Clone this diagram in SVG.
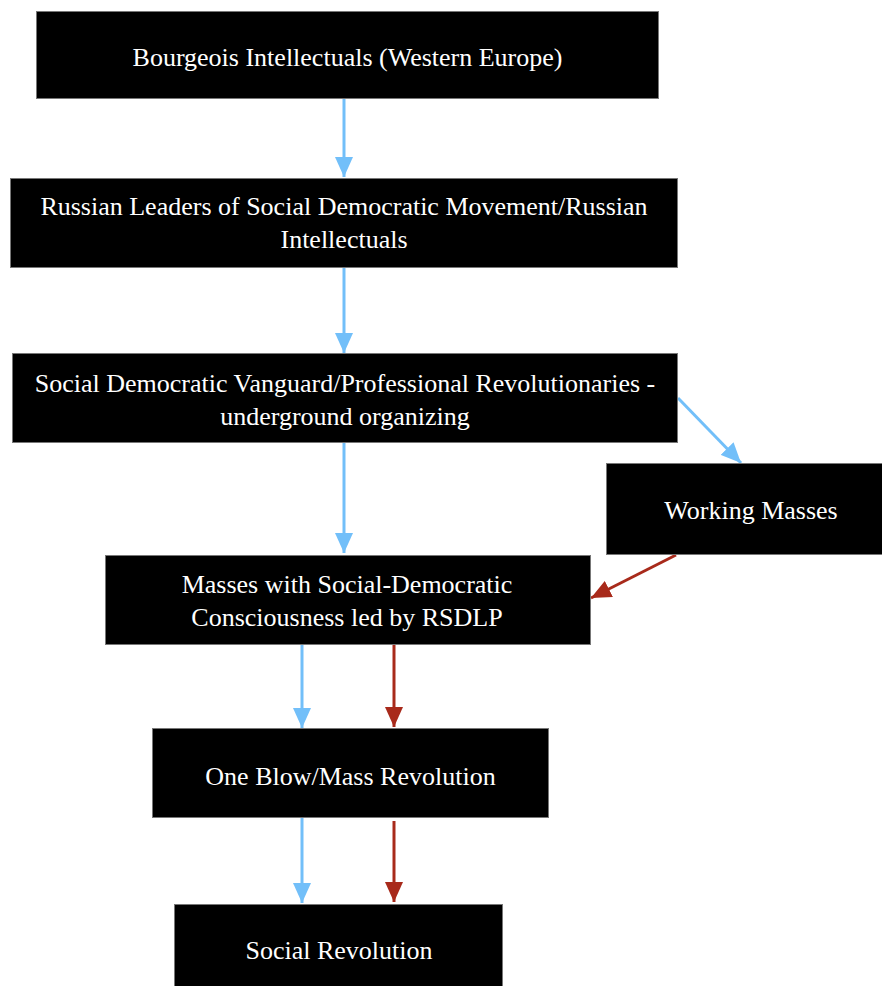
<svg xmlns="http://www.w3.org/2000/svg" width="882" height="986" viewBox="0 0 882 986">
<style>
.box{fill:#000;stroke:#777;stroke-width:1}
.lbl{fill:#fff;font-family:"Liberation Serif","Times New Roman",serif;font-size:26px;text-anchor:middle}
.blue{stroke:#72BFF9;stroke-width:3;fill:none}
.red{stroke:#A82A1B;stroke-width:3;fill:none}
</style>
<defs>
<marker id="hb" viewBox="0 0 20 18" refX="20" refY="9" markerWidth="20" markerHeight="18" markerUnits="userSpaceOnUse" orient="auto"><path d="M0,0 L20,9 L0,18 z" fill="#72BFF9"/></marker>
<marker id="hr" viewBox="0 0 20 18" refX="20" refY="9" markerWidth="20" markerHeight="18" markerUnits="userSpaceOnUse" orient="auto"><path d="M0,0 L20,9 L0,18 z" fill="#A82A1B"/></marker>
</defs>
<rect width="882" height="986" fill="#fff"/>
<g id="connectors">
<line class="blue" x1="344" y1="98" x2="344" y2="177" marker-end="url(#hb)"/>
<line class="blue" x1="344" y1="268" x2="344" y2="353" marker-end="url(#hb)"/>
<line class="blue" x1="344" y1="443" x2="344" y2="553" marker-end="url(#hb)"/>
<line class="blue" x1="678" y1="398" x2="741" y2="463" marker-end="url(#hb)"/>
<line class="red" x1="676" y1="555" x2="591" y2="598" marker-end="url(#hr)"/>
<line class="blue" x1="302" y1="645" x2="302" y2="728" marker-end="url(#hb)"/>
<line class="red" x1="394" y1="645" x2="394" y2="727" marker-end="url(#hr)"/>
<line class="blue" x1="302" y1="818" x2="302" y2="903" marker-end="url(#hb)"/>
<line class="red" x1="394" y1="821" x2="394" y2="902" marker-end="url(#hr)"/>
</g>
<g id="n1"><rect class="box" x="36.5" y="11.5" width="622" height="87"/><text class="lbl" x="347.5" y="66">Bourgeois Intellectuals (Western Europe)</text></g>
<g id="n2"><rect class="box" x="10.5" y="178.5" width="667" height="89"/><text class="lbl" x="344" y="215">Russian Leaders of Social Democratic Movement/Russian</text><text class="lbl" x="344" y="248">Intellectuals</text></g>
<g id="n3"><rect class="box" x="12.5" y="353.5" width="665" height="89"/><text class="lbl" x="345" y="392">Social Democratic Vanguard/Professional Revolutionaries -</text><text class="lbl" x="345" y="425">underground organizing</text></g>
<g id="n4"><rect class="box" x="606.5" y="463.5" width="280" height="91"/><text class="lbl" x="751" y="519">Working Masses</text></g>
<g id="n5"><rect class="box" x="105.5" y="555.5" width="485" height="89"/><text class="lbl" x="347" y="593">Masses with Social-Democratic</text><text class="lbl" x="347" y="626">Consciousness led by RSDLP</text></g>
<g id="n6"><rect class="box" x="152.5" y="728.5" width="396" height="89"/><text class="lbl" x="350.5" y="785">One Blow/Mass Revolution</text></g>
<g id="n7"><rect class="box" x="174.5" y="904.5" width="328" height="95"/><text class="lbl" x="339" y="959">Social Revolution</text></g>
</svg>
